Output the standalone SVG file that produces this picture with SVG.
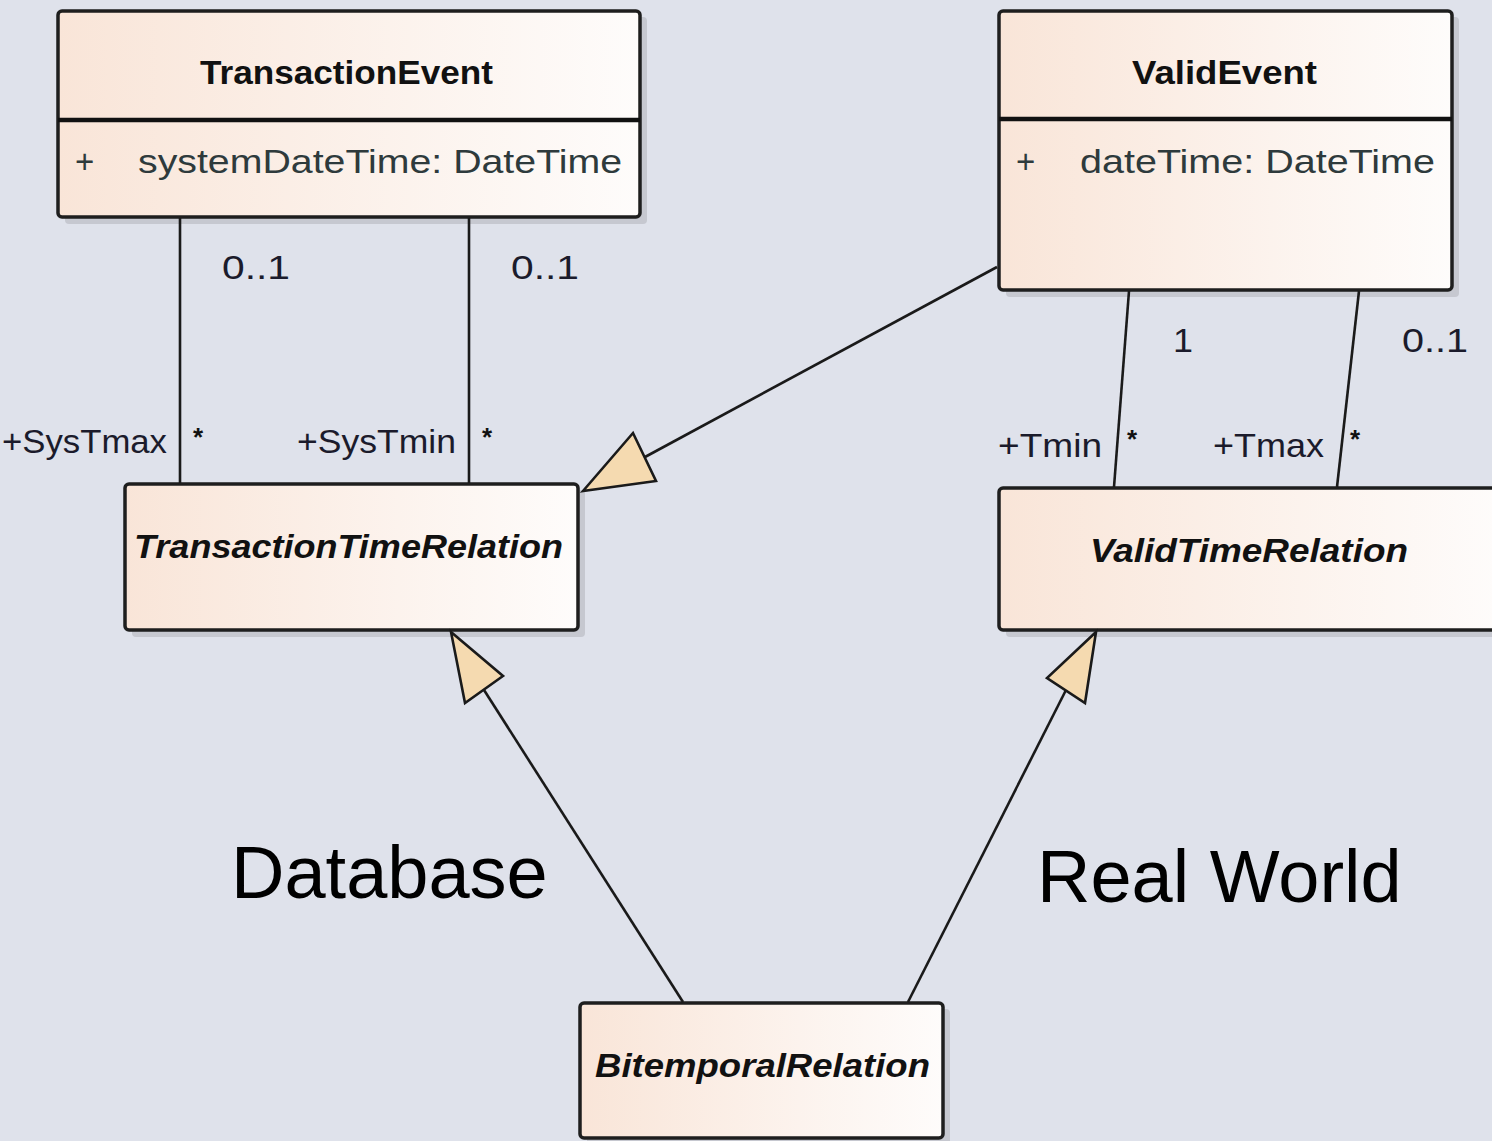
<svg xmlns="http://www.w3.org/2000/svg" width="1492" height="1141" viewBox="0 0 1492 1141">
<defs>
<linearGradient id="fill" x1="0" y1="0" x2="1" y2="0">
<stop offset="0" stop-color="#f9e5d8"/>
<stop offset="1" stop-color="#fefcfb"/>
</linearGradient>
<style>
.box{fill:url(#fill);stroke:#1e1e1e;stroke-width:3.5}
.shadow{fill:#c6c8d0}
.div{stroke:#111;stroke-width:4.5}
.title{font-family:"Liberation Sans",Arial,sans-serif;font-weight:bold;font-size:33px;fill:#111;text-anchor:start}
.abs{font-family:"Liberation Sans",Arial,sans-serif;font-weight:bold;font-style:italic;font-size:33px;fill:#111}
.attr{font-family:"Liberation Sans",Arial,sans-serif;font-size:33px;fill:#2e3a3c}
.lbl{font-family:"Liberation Sans",Arial,sans-serif;font-size:33px;fill:#1b1b2b}
.star{font-family:"Liberation Sans",Arial,sans-serif;font-size:26px;font-weight:bold;fill:#111}
.big{font-family:"Liberation Sans",Arial,sans-serif;font-size:74px;fill:#000}
.line{stroke:#1a1a1a;stroke-width:2.6;fill:none}
.tri{fill:#f5dab0;stroke:#1a1a1a;stroke-width:2.6;stroke-linejoin:miter}
</style>
</defs>
<rect width="1492" height="1141" fill="#dfe2eb"/>

<g id="TransactionEvent">
<rect class="shadow" x="65" y="17" width="582" height="207" rx="4"/>
<rect class="box" x="58" y="11" width="582" height="206" rx="4"/>
<line class="div" x1="58" y1="120" x2="640" y2="120"/>
<text class="title" x="200" y="84" textLength="293" lengthAdjust="spacingAndGlyphs">TransactionEvent</text>
<text class="attr" x="75" y="173">+</text>
<text class="attr" x="138" y="173" textLength="484" lengthAdjust="spacingAndGlyphs">systemDateTime: DateTime</text>
</g>

<g id="ValidEvent">
<rect class="shadow" x="1006" y="17" width="453" height="280" rx="4"/>
<rect class="box" x="999" y="11" width="453" height="279" rx="4"/>
<line class="div" x1="999" y1="119" x2="1452" y2="119"/>
<text class="title" x="1132" y="84" textLength="185" lengthAdjust="spacingAndGlyphs">ValidEvent</text>
<text class="attr" x="1016" y="173">+</text>
<text class="attr" x="1080" y="173" textLength="355" lengthAdjust="spacingAndGlyphs">dateTime: DateTime</text>
</g>

<g id="TransactionTimeRelation">
<rect class="shadow" x="132" y="490" width="453" height="147" rx="4"/>
<rect class="box" x="125" y="484" width="453" height="146" rx="4"/>
<text class="abs" x="134" y="558" textLength="429" lengthAdjust="spacingAndGlyphs">TransactionTimeRelation</text>
</g>

<g id="ValidTimeRelation">
<rect class="shadow" x="1006" y="494" width="500" height="143" rx="4"/>
<rect class="box" x="999" y="488" width="500" height="142" rx="4"/>
<text class="abs" x="1090" y="562" textLength="318" lengthAdjust="spacingAndGlyphs">ValidTimeRelation</text>
</g>

<g id="BitemporalRelation">
<rect class="shadow" x="587" y="1009" width="363" height="140" rx="4"/>
<rect class="box" x="580" y="1003" width="363" height="135" rx="4"/>
<text class="abs" x="595" y="1077" textLength="335" lengthAdjust="spacingAndGlyphs">BitemporalRelation</text>
</g>

<g id="connectors">
<line class="line" x1="180" y1="218" x2="180" y2="483"/>
<line class="line" x1="469" y1="218" x2="469" y2="483"/>
<line class="line" x1="1129" y1="291" x2="1114" y2="487"/>
<line class="line" x1="1359" y1="291" x2="1337" y2="487"/>
<line class="line" x1="997" y1="267" x2="645" y2="457"/>
<polygon class="tri" points="583,491 633,433 656,481"/>
<line class="line" x1="683" y1="1002" x2="484" y2="690"/>
<polygon class="tri" points="451,632 503,676 465,703"/>
<line class="line" x1="908" y1="1002" x2="1066" y2="690"/>
<polygon class="tri" points="1096,632 1047,678 1085,703"/>
<text class="lbl" x="222" y="279" textLength="68" lengthAdjust="spacingAndGlyphs">0..1</text>
<text class="lbl" x="511" y="279" textLength="68" lengthAdjust="spacingAndGlyphs">0..1</text>
<text class="lbl" x="2" y="453" textLength="165" lengthAdjust="spacingAndGlyphs">+SysTmax</text>
<text class="star" x="193" y="446">*</text>
<text class="lbl" x="297" y="453" textLength="159" lengthAdjust="spacingAndGlyphs">+SysTmin</text>
<text class="star" x="482" y="446">*</text>
<text class="lbl" x="1173" y="352" textLength="20" lengthAdjust="spacingAndGlyphs">1</text>
<text class="lbl" x="1402" y="352" textLength="66" lengthAdjust="spacingAndGlyphs">0..1</text>
<text class="lbl" x="998" y="457" textLength="104" lengthAdjust="spacingAndGlyphs">+Tmin</text>
<text class="star" x="1127" y="448">*</text>
<text class="lbl" x="1213" y="457" textLength="111" lengthAdjust="spacingAndGlyphs">+Tmax</text>
<text class="star" x="1350" y="448">*</text>
</g>

<g id="labels">
<text class="big" x="231" y="898">Database</text>
<text class="big" x="1037" y="902">Real World</text>
</g>
</svg>
